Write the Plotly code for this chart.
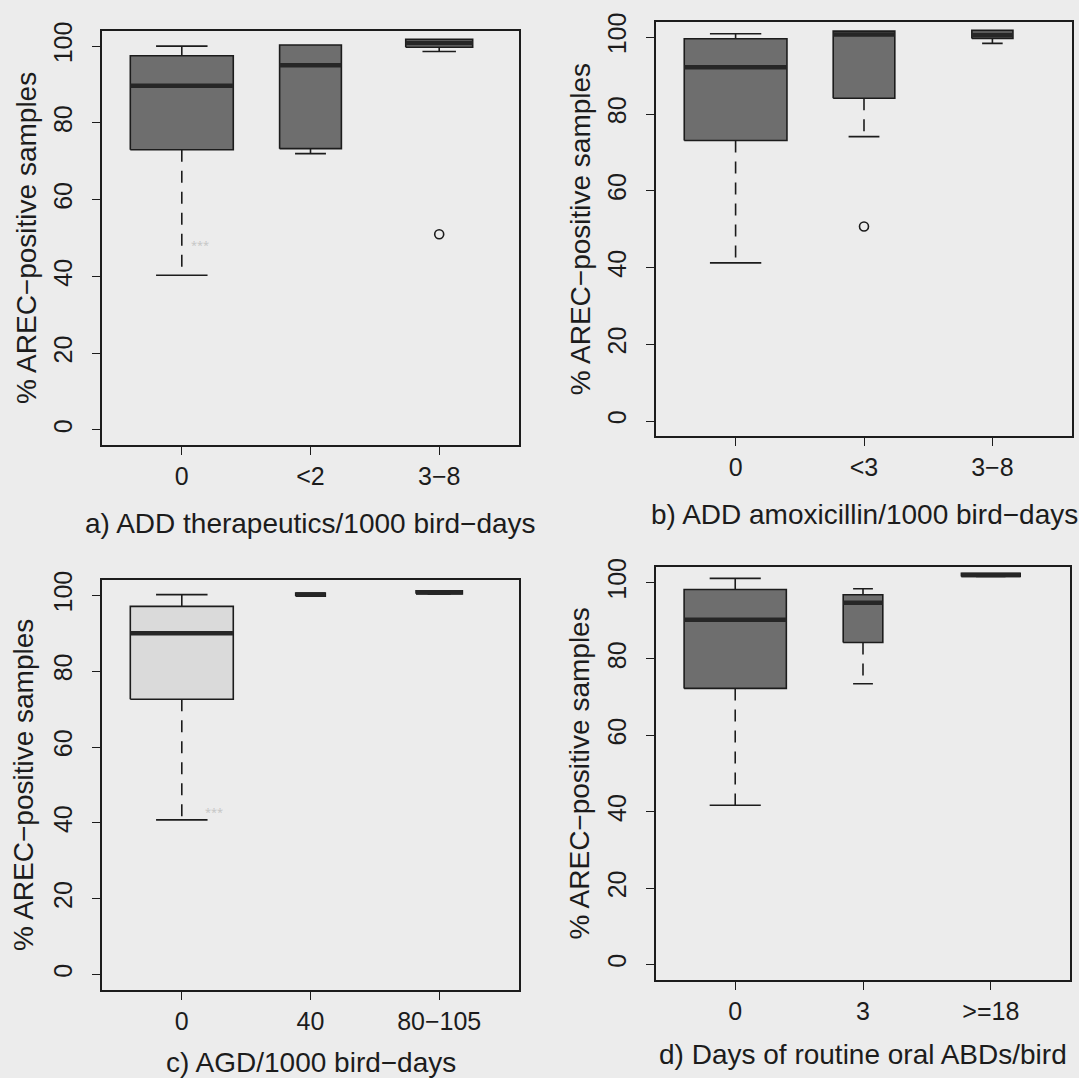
import plotly.graph_objects as go

# ---------------- data ----------------
cats_a = ["0", "<2", "3\u22128"]
lo_a = [40.3, 72.0, 98.6]
q1_a = [73.0, 73.3, 99.7]
med_a = [89.7, 95.0, 100.8]
q3_a = [97.5, 100.3, 101.8]
hi_a = [100.0, 100.3, 101.8]
out_a = [None, None, 51.0]

cats_b = ["0", "<3", "3\u22128"]
lo_b = [41.2, 74.1, 98.4]
q1_b = [73.1, 84.1, 99.7]
med_b = [92.2, 100.7, 100.6]
q3_b = [99.6, 101.6, 101.8]
hi_b = [100.9, 101.6, 101.8]
out_b = [None, 50.7, None]

cats_c = ["0", "40", "80\u2212105"]
lo_c = [40.8, 99.8, 100.4]
q1_c = [72.6, 99.8, 100.4]
med_c = [90.0, 100.2, 100.8]
q3_c = [97.1, 100.6, 101.2]
hi_c = [100.2, 100.6, 101.2]
out_c = [None, None, None]

cats_d = ["0", "3", ">=18"]
lo_d = [41.7, 73.5, 101.6]
q1_d = [72.3, 84.3, 101.6]
med_d = [90.3, 94.7, 102.0]
q3_d = [98.2, 96.8, 102.4]
hi_d = [101.1, 98.4, 102.4]
out_d = [None, None, None]

titles = ["a) ADD therapeutics/1000 bird\u2212days",
          "b) ADD amoxicillin/1000 bird\u2212days",
          "c) AGD/1000 bird\u2212days",
          "d) Days of routine oral ABDs/bird"]
ytitle = "% AREC\u2212positive samples"
yticks = [0, 20, 40, 60, 80, 100]

# ---------------- styles / layout ----------------
W, H = 1079, 1078
BG = "#ececec"
INK = "#1c1c1c"
FONT = "Liberation Sans, Arial, sans-serif"
box_w = [[0.80, 0.48, 0.52], [0.80, 0.48, 0.32], [0.80, 0.23, 0.36], [0.80, 0.31, 0.46]]
fills = ["#6e6e6e", "#6e6e6e", "#dadada", "#6e6e6e"]
# plot frames in pixels: (left, right, top, bottom)
frames = [(102, 519, 22, 440), (656, 1072, 13, 431), (102, 519, 576, 989), (656, 1070, 563, 979)]
ytitle_x = [26, 580, 24, 580]
xtitle_y = [519, 510, 1062, 1054]

panels = [
    (cats_a, lo_a, q1_a, med_a, q3_a, hi_a, out_a),
    (cats_b, lo_b, q1_b, med_b, q3_b, hi_b, out_b),
    (cats_c, lo_c, q1_c, med_c, q3_c, hi_c, out_c),
    (cats_d, lo_d, q1_d, med_d, q3_d, hi_d, out_d),
]

fig = go.Figure()
annotations = []
layout = {}

for p, (cats, lo, q1, med, q3, hi, out) in enumerate(panels):
    xa = "x" if p == 0 else f"x{p+1}"
    ya = "y" if p == 0 else f"y{p+1}"
    for i in range(len(cats)):
        c = i + 1
        w = box_w[p][i]
        l, r = c - w / 2, c + w / 2
        common = dict(xaxis=xa, yaxis=ya, showlegend=False, hoverinfo="skip", mode="lines")
        # whiskers (dashed) and staples
        if lo[i] < q1[i]:
            fig.add_trace(go.Scatter(x=[c, c], y=[q1[i], lo[i]],
                                     line=dict(color=INK, width=1.6, dash="12px,9px"), **common))
        fig.add_trace(go.Scatter(x=[c - w / 4, c + w / 4], y=[lo[i], lo[i]],
                                 line=dict(color=INK, width=1.6), **common))
        if hi[i] > q3[i]:
            fig.add_trace(go.Scatter(x=[c, c], y=[q3[i], hi[i]],
                                     line=dict(color=INK, width=1.6, dash="12px,9px"), **common))
            fig.add_trace(go.Scatter(x=[c - w / 4, c + w / 4], y=[hi[i], hi[i]],
                                     line=dict(color=INK, width=1.6), **common))
        # box
        fig.add_trace(go.Scatter(x=[l, r, r, l, l], y=[q1[i], q1[i], q3[i], q3[i], q1[i]],
                                 fill="toself", fillcolor=fills[p],
                                 line=dict(color=INK, width=1.6), **common))
        # median
        fig.add_trace(go.Scatter(x=[l, r], y=[med[i], med[i]],
                                 line=dict(color="#262626", width=4.5), **common))
        # outlier
        if out[i] is not None:
            fig.add_trace(go.Scatter(x=[c], y=[out[i]], mode="markers", xaxis=xa, yaxis=ya,
                                     showlegend=False, hoverinfo="skip",
                                     marker=dict(symbol="circle-open", size=9,
                                                 color=INK, line=dict(width=1.6))))

    L, R, T, B = frames[p]
    axkw = dict(showline=True, mirror=True, linecolor=INK, linewidth=1.6,
                showgrid=False, zeroline=False, ticks="outside", ticklen=8,
                tickwidth=1.4, tickcolor=INK,
                tickfont=dict(family=FONT, size=25, color=INK))
    layout["xaxis" if p == 0 else f"xaxis{p+1}"] = dict(
        domain=[L / W, R / W], anchor=ya, range=[0.38, 3.62],
        tickvals=[1, 2, 3], ticktext=cats, ticklabelstandoff=0, **axkw)
    layout["yaxis" if p == 0 else f"yaxis{p+1}"] = dict(
        domain=[1 - B / H, 1 - T / H], anchor=xa, range=[-4, 104],
        tickvals=yticks, tickangle=-90, ticklabelstandoff=10, **axkw)

    annotations.append(dict(text=titles[p], xref="paper", yref="paper",
                            x=((L + R) / 2) / W, y=1 - xtitle_y[p] / H,
                            xanchor="center", yanchor="middle", showarrow=False,
                            font=dict(family=FONT, size=28, color=INK)))
    annotations.append(dict(text=ytitle, xref="paper", yref="paper",
                            x=ytitle_x[p] / W, y=1 - ((T + B) / 2) / H, textangle=-90,
                            xanchor="center", yanchor="middle", showarrow=False,
                            font=dict(family=FONT, size=28, color=INK)))

# faint significance marks
annotations.append(dict(text="***", xref="x", yref="y", x=1.14, y=48.4, showarrow=False,
                        font=dict(size=11, color="#c4c4c4")))
annotations.append(dict(text="***", xref="x3", yref="y3", x=1.25, y=42.9, showarrow=False,
                        font=dict(size=11, color="#c4c4c4")))

fig.update_layout(width=W, height=H, margin=dict(l=0, r=0, t=0, b=0),
                  paper_bgcolor=BG, plot_bgcolor=BG, annotations=annotations, **layout)
fig.write_html("out.html")
